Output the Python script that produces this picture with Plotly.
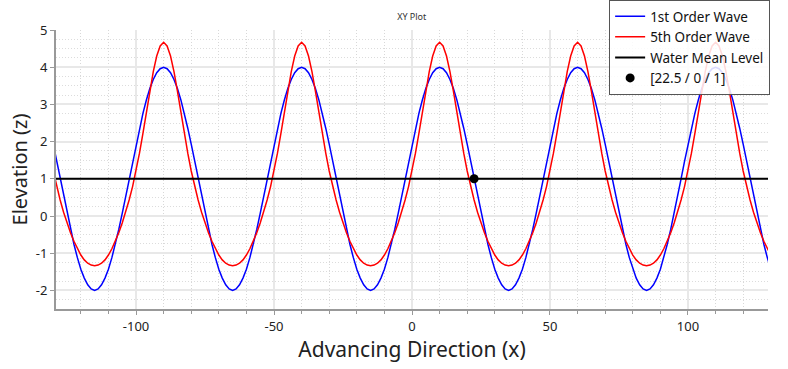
import plotly.graph_objects as go

# Sample grid along the advancing direction (x), step 1.25 from -130 to 130
x_start, x_step, n_pts = -130.0, 1.25, 209
x_vals = [x_start + x_step * i for i in range(n_pts)]

# 1st order wave elevation
first_order = [
    1.93, 1.47, 1.00, 0.53, 0.07, -0.36, -0.76, -1.12, -1.43, -1.67,
    -1.85, -1.96, -2.00, -1.96, -1.85, -1.67, -1.43, -1.12, -0.76, -0.36,
    0.07, 0.53, 1.00, 1.47, 1.93, 2.36, 2.76, 3.12, 3.43, 3.67,
    3.85, 3.96, 4.00, 3.96, 3.85, 3.67, 3.43, 3.12, 2.76, 2.36,
    1.93, 1.47, 1.00, 0.53, 0.07, -0.36, -0.76, -1.12, -1.43, -1.67,
    -1.85, -1.96, -2.00, -1.96, -1.85, -1.67, -1.43, -1.12, -0.76, -0.36,
    0.07, 0.53, 1.00, 1.47, 1.93, 2.36, 2.76, 3.12, 3.43, 3.67,
    3.85, 3.96, 4.00, 3.96, 3.85, 3.67, 3.43, 3.12, 2.76, 2.36,
    1.93, 1.47, 1.00, 0.53, 0.07, -0.36, -0.76, -1.12, -1.43, -1.67,
    -1.85, -1.96, -2.00, -1.96, -1.85, -1.67, -1.43, -1.12, -0.76, -0.36,
    0.07, 0.53, 1.00, 1.47, 1.93, 2.36, 2.76, 3.12, 3.43, 3.67,
    3.85, 3.96, 4.00, 3.96, 3.85, 3.67, 3.43, 3.12, 2.76, 2.36,
    1.93, 1.47, 1.00, 0.53, 0.07, -0.36, -0.76, -1.12, -1.43, -1.67,
    -1.85, -1.96, -2.00, -1.96, -1.85, -1.67, -1.43, -1.12, -0.76, -0.36,
    0.07, 0.53, 1.00, 1.47, 1.93, 2.36, 2.76, 3.12, 3.43, 3.67,
    3.85, 3.96, 4.00, 3.96, 3.85, 3.67, 3.43, 3.12, 2.76, 2.36,
    1.93, 1.47, 1.00, 0.53, 0.07, -0.36, -0.76, -1.12, -1.43, -1.67,
    -1.85, -1.96, -2.00, -1.96, -1.85, -1.67, -1.43, -1.12, -0.76, -0.36,
    0.07, 0.53, 1.00, 1.47, 1.93, 2.36, 2.76, 3.12, 3.43, 3.67,
    3.85, 3.96, 4.00, 3.96, 3.85, 3.67, 3.43, 3.12, 2.76, 2.36,
    1.93, 1.47, 1.00, 0.53, 0.07, -0.36, -0.76, -1.12, -1.43,
]

# 5th order wave elevation
fifth_order = [
    1.21, 0.79, 0.43, 0.10, -0.19, -0.45, -0.68, -0.88, -1.05, -1.18,
    -1.27, -1.32, -1.34, -1.32, -1.27, -1.18, -1.05, -0.88, -0.68, -0.45,
    -0.19, 0.10, 0.43, 0.79, 1.21, 1.69, 2.22, 2.79, 3.36, 3.88,
    4.30, 4.57, 4.67, 4.57, 4.30, 3.88, 3.36, 2.79, 2.22, 1.69,
    1.21, 0.79, 0.43, 0.10, -0.19, -0.45, -0.68, -0.88, -1.05, -1.18,
    -1.27, -1.32, -1.34, -1.32, -1.27, -1.18, -1.05, -0.88, -0.68, -0.45,
    -0.19, 0.10, 0.43, 0.79, 1.21, 1.69, 2.22, 2.79, 3.36, 3.88,
    4.30, 4.57, 4.67, 4.57, 4.30, 3.88, 3.36, 2.79, 2.22, 1.69,
    1.21, 0.79, 0.43, 0.10, -0.19, -0.45, -0.68, -0.88, -1.05, -1.18,
    -1.27, -1.32, -1.34, -1.32, -1.27, -1.18, -1.05, -0.88, -0.68, -0.45,
    -0.19, 0.10, 0.43, 0.79, 1.21, 1.69, 2.22, 2.79, 3.36, 3.88,
    4.30, 4.57, 4.67, 4.57, 4.30, 3.88, 3.36, 2.79, 2.22, 1.69,
    1.21, 0.79, 0.43, 0.10, -0.19, -0.45, -0.68, -0.88, -1.05, -1.18,
    -1.27, -1.32, -1.34, -1.32, -1.27, -1.18, -1.05, -0.88, -0.68, -0.45,
    -0.19, 0.10, 0.43, 0.79, 1.21, 1.69, 2.22, 2.79, 3.36, 3.88,
    4.30, 4.57, 4.67, 4.57, 4.30, 3.88, 3.36, 2.79, 2.22, 1.69,
    1.21, 0.79, 0.43, 0.10, -0.19, -0.45, -0.68, -0.88, -1.05, -1.18,
    -1.27, -1.32, -1.34, -1.32, -1.27, -1.18, -1.05, -0.88, -0.68, -0.45,
    -0.19, 0.10, 0.43, 0.79, 1.21, 1.69, 2.22, 2.79, 3.36, 3.88,
    4.30, 4.57, 4.67, 4.57, 4.30, 3.88, 3.36, 2.79, 2.22, 1.69,
    1.21, 0.79, 0.43, 0.10, -0.19, -0.45, -0.68, -0.88, -1.05,
]

# Water mean level
mean_x = [-130, 130]
mean_y = [1, 1]

# Probe point
probe_x = [22.5]
probe_y = [1]
probe_label = "[22.5 / 0 / 1]"

# Tick labels (hyphen minus as in the original)
x_ticks = [-100, -50, 0, 50, 100]
x_tick_text = ["-100", "-50", "0", "50", "100"]
y_ticks = [-2, -1, 0, 1, 2, 3, 4, 5]
y_tick_text = ["-2", "-1", "0", "1", "2", "3", "4", "5"]

FONT = "Noto Sans"

fig = go.Figure()
fig.add_trace(go.Scatter(x=x_vals, y=first_order, mode="lines", name="1st Order Wave",
                         line=dict(color="#0000ff", width=1.5)))
fig.add_trace(go.Scatter(x=x_vals, y=fifth_order, mode="lines", name="5th Order Wave",
                         line=dict(color="#ff0000", width=1.5)))
fig.add_trace(go.Scatter(x=mean_x, y=mean_y, mode="lines", name="Water Mean Level",
                         line=dict(color="#000000", width=2)))
fig.add_trace(go.Scatter(x=probe_x, y=probe_y, mode="markers", name=probe_label,
                         marker=dict(color="#000000", size=9)))

fig.update_layout(
    width=788, height=369,
    margin=dict(l=56, r=20, t=30, b=60, autoexpand=False),
    paper_bgcolor="white", plot_bgcolor="white",
    font=dict(family=FONT, color="#222"),
    title=dict(text="XY Plot", x=0.5225, xanchor="center", y=0.955, yanchor="middle",
               font=dict(size=9, color="#333", family=FONT)),
    showlegend=True,
    legend=dict(x=1.003, xanchor="right", y=1.0, yref="container", yanchor="top",
                bgcolor="rgba(255,255,255,0.85)", bordercolor="#555", borderwidth=1,
                font=dict(size=13.5, color="#111", family=FONT),
                itemwidth=30, tracegroupgap=0),
)

fig.update_xaxes(
    range=[-129, 129], tickmode="array", tickvals=x_ticks, ticktext=x_tick_text,
    showline=True, linecolor="#999", linewidth=2,
    ticks="outside", ticklen=4, tickcolor="#999",
    showgrid=True, gridcolor="#e8e8e8", gridwidth=2, zeroline=False,
    tickfont=dict(size=13, color="#222"),
    minor=dict(dtick=10, tick0=0, showgrid=True, gridcolor="#d8d8d8", griddash="1px,2px",
               gridwidth=1, ticks="outside", ticklen=3, tickcolor="#999"),
    title=dict(text="Advancing Direction (x)", font=dict(size=21, color="#222"), standoff=8),
)
fig.update_yaxes(
    range=[-2.5, 5], tickmode="array", tickvals=y_ticks, ticktext=y_tick_text,
    showline=True, linecolor="#999", linewidth=2,
    ticks="outside", ticklen=4, tickcolor="#999",
    showgrid=True, gridcolor="#e8e8e8", gridwidth=2, zeroline=False,
    tickfont=dict(size=13, color="#222"),
    minor=dict(dtick=0.25, tick0=0, showgrid=True, gridcolor="#dcdcdc", griddash="1px,2px",
               gridwidth=1),
    title=dict(text="Elevation (z)", font=dict(size=20, color="#222"), standoff=3),
)

fig.write_html("out.html", config={"displayModeBar": False},
               post_script="document.body.style.margin='0';")
